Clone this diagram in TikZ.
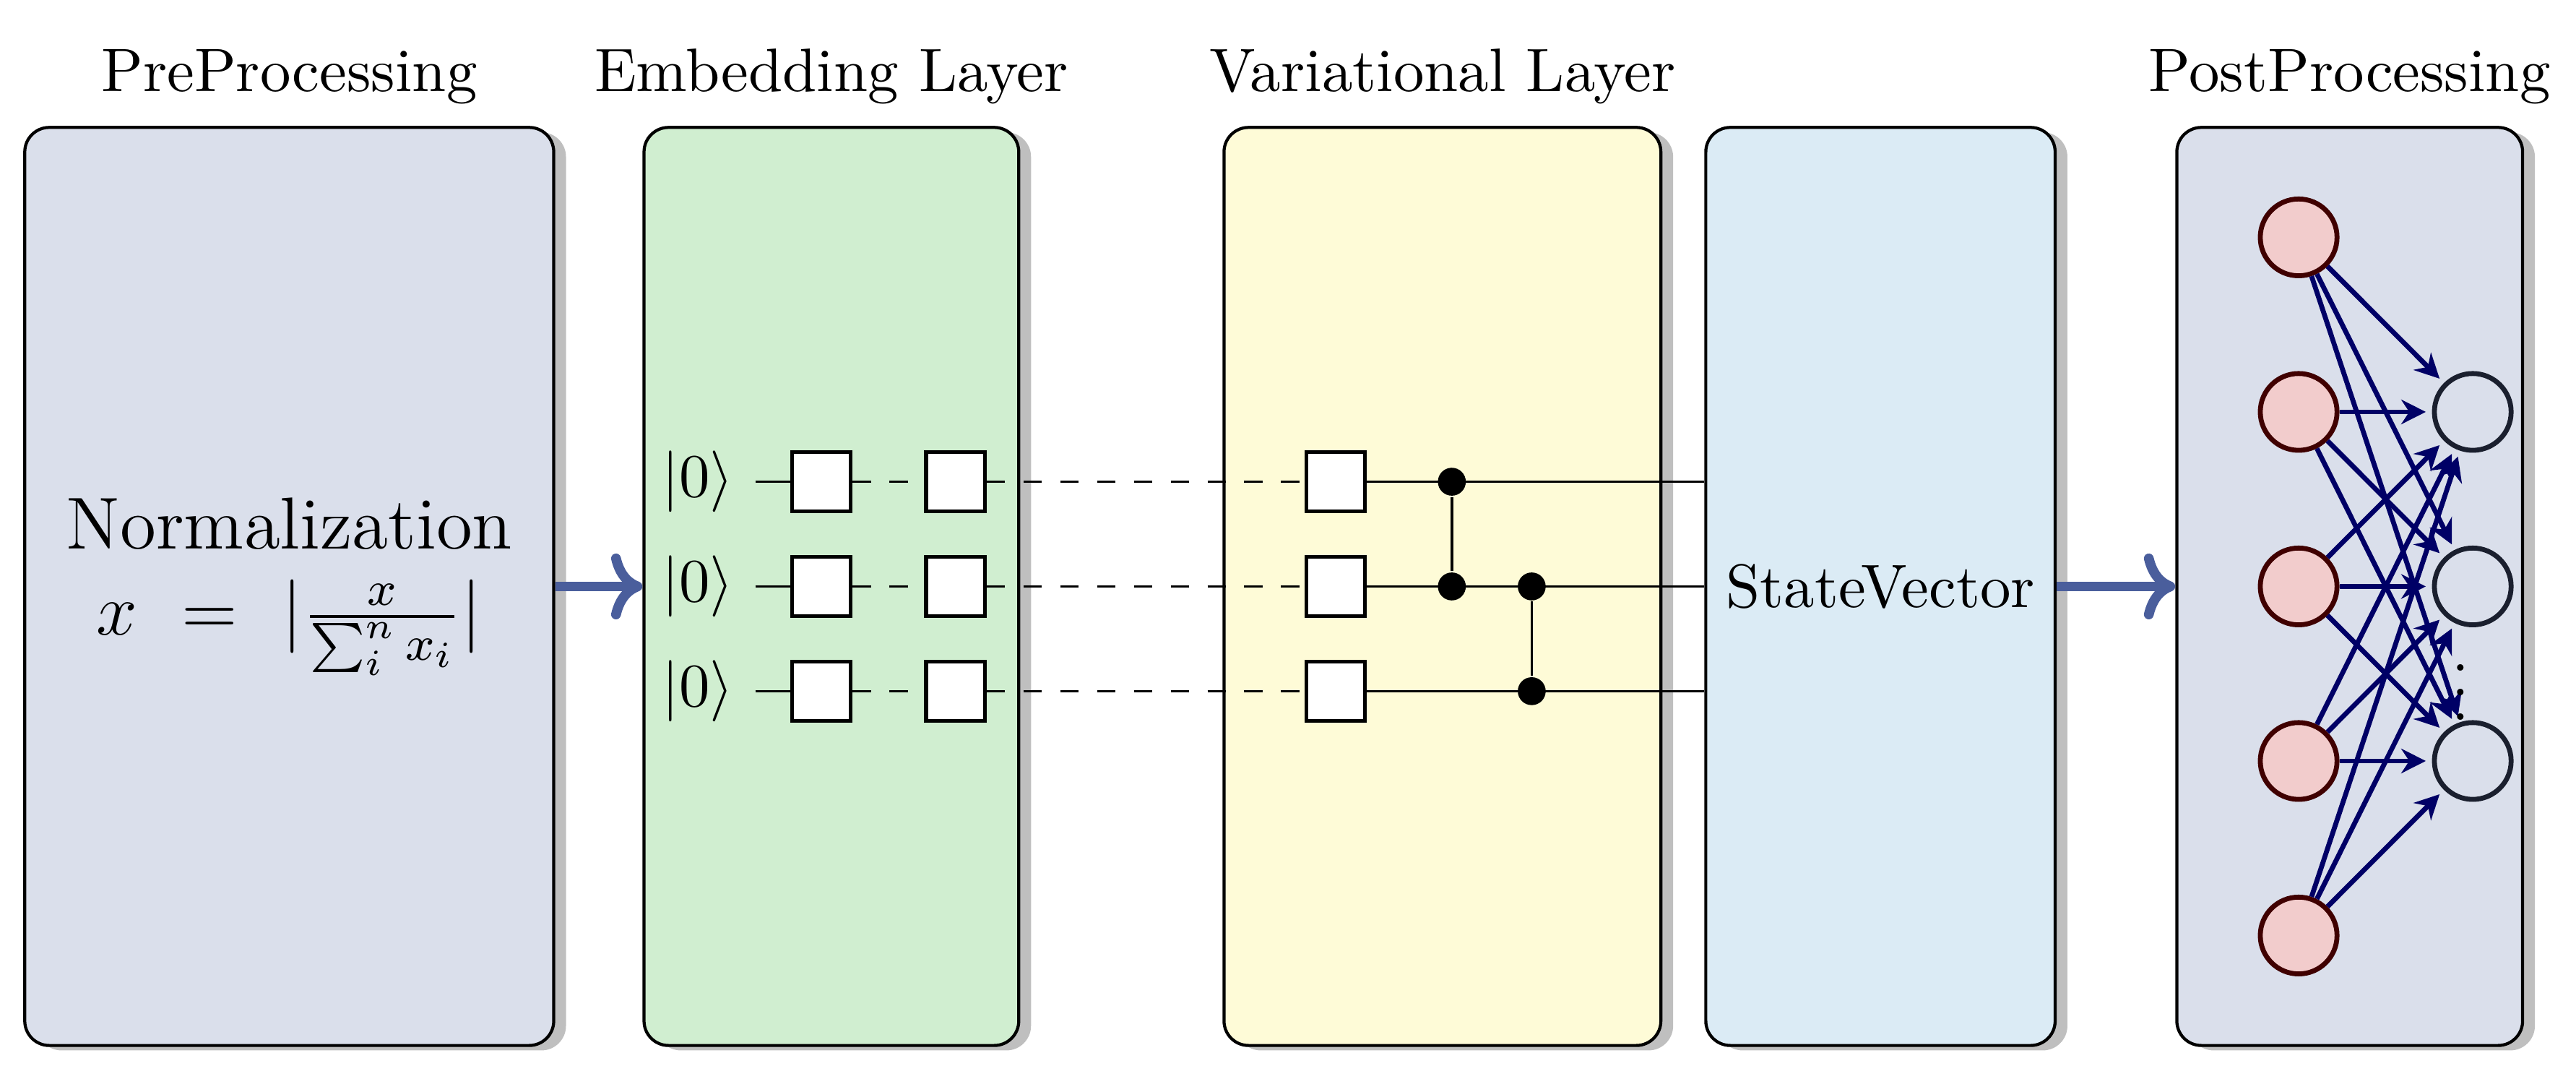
\documentclass[tikz,border=0pt]{standalone}
\usepackage{amsmath}
\usepackage{tikz}
\usetikzlibrary{positioning,shadows,arrows.meta,calc}

\definecolor{procfill}{RGB}{218,223,235}
\definecolor{embfill}{RGB}{208,238,208}
\definecolor{varfill}{RGB}{254,251,215}
\definecolor{svfill}{RGB}{219,235,245}
\definecolor{flowblue}{RGB}{74,94,156}
\definecolor{inpink}{RGB}{242,204,204}
\definecolor{inborder}{RGB}{64,0,0}
\definecolor{outborder}{RGB}{26,31,46}
\definecolor{edgenavy}{RGB}{0,0,102}

\begin{document}
\begin{tikzpicture}[
	layer/.style={draw, line width=0.5pt, rounded corners=4pt, minimum height=5.26cm, drop shadow={shadow xshift=2pt, shadow yshift=-0.8pt}},
	flow/.style={->, line width=1.6pt, flowblue},
	gate/.style={draw, fill=white, semithick, minimum size=9.6pt, inner sep=0pt},
	ctrl/.style={circle, fill=black, inner sep=0pt, minimum size=0.16cm},
	neuron/.style={circle, thick, minimum size=0.44cm, inner sep=0pt},
	synapse/.style={-{Stealth[length=4pt,width=4pt]}, thick, edgenavy, shorten >=1pt}
]
	\useasboundingbox (0,-2.822) rectangle (14.766,3.36);

	\node[layer, fill=procfill, minimum width=3.032cm, align=center, font=\large] (pre) at (1.658,0) {Normalization\\$x\ =\ |\frac{x}{\sum_i^n x_i}|$};
	\node[layer, fill=embfill, minimum width=2.148cm, right=0.5cm of pre] (emb) {};
	\node[layer, fill=varfill, minimum width=2.504cm, right=1.159cm of emb] (var) {};
	\node[layer, fill=svfill, minimum width=1.978cm, right=0.24cm of var] (sv) {StateVector};
	\node[layer, fill=procfill, minimum width=1.982cm, right=0.68cm of sv] (post) {};

	\node[above=0pt of pre] {PreProcessing};
	\node[above=0pt of emb] {Embedding Layer};
	\node[above=0pt of var] {Variational Layer};
	\node[above=0pt of post] {PostProcessing};

	\draw[flow] (pre) -- (emb);
	\draw[flow] (sv) -- (post);

	\foreach \q/\y in {1/0.6, 2/0, 3/-0.6} {
		\node (k\q) at (4.0,\y) {$|0\rangle$};
		\node[gate, right=0.2cm of k\q] (a\q) {};
		\node[gate, right=0.41cm of a\q] (b\q) {};
		\node[gate] (v\q) at (7.656,\y) {};
		\draw (k\q) -- (a\q);
		\draw[dashed] (a\q) -- (b\q);
		\draw[dashed] (b\q) -- (v\q);
		\draw (v\q) -- (v\q -| sv.west);
	}
	\node[ctrl] (ca) at (8.322,0.6) {};
	\node[ctrl] (cb) at (8.322,0) {};
	\node[ctrl] (cc) at (8.780,0) {};
	\node[ctrl] (cd) at (8.780,-0.6) {};
	\draw (ca) -- (cb);
	\draw (cc) -- (cd);

	\foreach \i in {1,...,5}
		\node[neuron, draw=inborder, fill=inpink] (I-\i) at (13.176,3-\i) {};
	\foreach \j in {1,2,3}
		\node[neuron, draw=outborder] (O-\j) at (14.174,2-\j) {};

	\foreach \i in {1,...,5}
		\foreach \j in {1,2,3}
			\draw[synapse] (I-\i) -- (O-\j);
	\node[xshift=-2pt] (dots) at ($(O-2)!0.5!(O-3)$) {$\vdots$};
\end{tikzpicture}
\end{document}
